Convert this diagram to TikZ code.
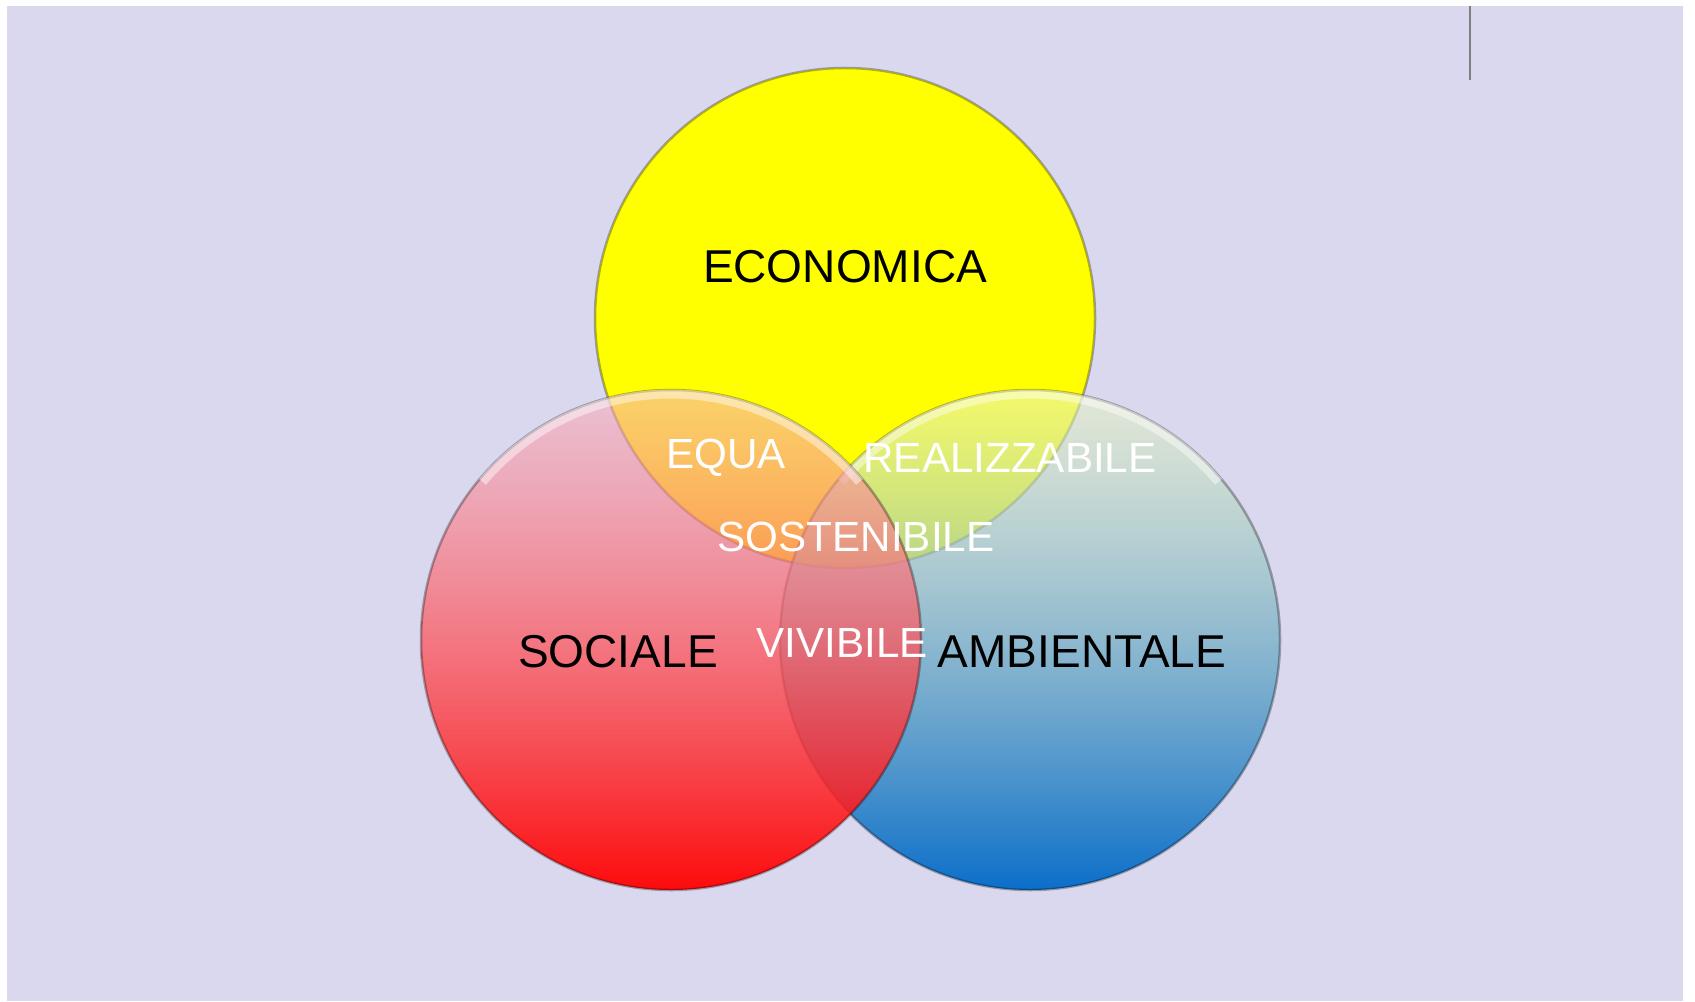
\documentclass[tikz,border=0pt]{standalone}
\usepackage{fontspec}
\setmainfont{Liberation Sans}
\usetikzlibrary{fadings}

\definecolor{lavender}{RGB}{218,216,238}
\definecolor{ecofill}{RGB}{255,255,0}
\definecolor{soctop}{RGB}{248,175,190}
\definecolor{socmid}{RGB}{252,95,105}
\definecolor{socbot}{RGB}{255,0,0}
\definecolor{ambtop}{RGB}{235,245,195}
\definecolor{ambmid}{RGB}{95,170,190}
\definecolor{ambbot}{RGB}{0,105,200}
\tikzfading[name=venn fade, top color=transparent!45, bottom color=transparent!5]

\begin{document}
\begin{tikzpicture}[
  dark/.style={text=black, font=\fontsize{13.1}{15}\selectfont},
  light/.style={text=white, font=\fontsize{12}{14}\selectfont},
  rim/.style={white, line width=0.9mm, opacity=0.45},
  edge/.style={black, line width=0.25mm, opacity=0.3}]
  \useasboundingbox (0,0) rectangle (16.95,10.01);
  \fill[white] (0,0) rectangle (16.95,10.01);
  \fill[lavender] (0.07,0) rectangle (16.83,9.95);
  \coordinate (mark top) at (14.70,9.95);
  \coordinate (mark end) at (14.70,9.21);
  \draw[gray, line width=0.25mm] (mark top) -- (mark end);

  % the three circles
  \coordinate (eco) at (8.45,6.83);
  \coordinate (soc) at (6.71,3.61);
  \coordinate (amb) at (10.30,3.61);
  \fill[ecofill] (eco) circle (2.5);
  \draw[edge] (eco) circle (2.5);
  \shade[top color=ambtop, middle color=ambmid, bottom color=ambbot, path fading=venn fade] (amb) circle (2.5);
  \draw[edge] (amb) circle (2.5);
  \draw[rim] (amb) ++(40:2.46) arc (40:140:2.46);
  \shade[top color=soctop, middle color=socmid, bottom color=socbot, path fading=venn fade] (soc) circle (2.5);
  \draw[edge] (soc) circle (2.5);
  \draw[rim] (soc) ++(40:2.46) arc (40:140:2.46);

  % labels
  \node[dark] (economica) at (8.45,7.34) {ECONOMICA};
  \node[dark] (sociale) at (6.18,3.49) {SOCIALE};
  \node[dark] (ambientale) at (10.82,3.49) {AMBIENTALE};
  \node[light] (equa) at (7.26,5.43) {EQUA};
  \node[light] (realizzabile) at (10.10,5.43) {REALIZZABILE};
  \node[light] (sostenibile) at (8.56,4.64) {SOSTENIBILE};
  \node[light] (vivibile) at (8.42,3.58) {VIVIBILE};
\end{tikzpicture}
\end{document}
